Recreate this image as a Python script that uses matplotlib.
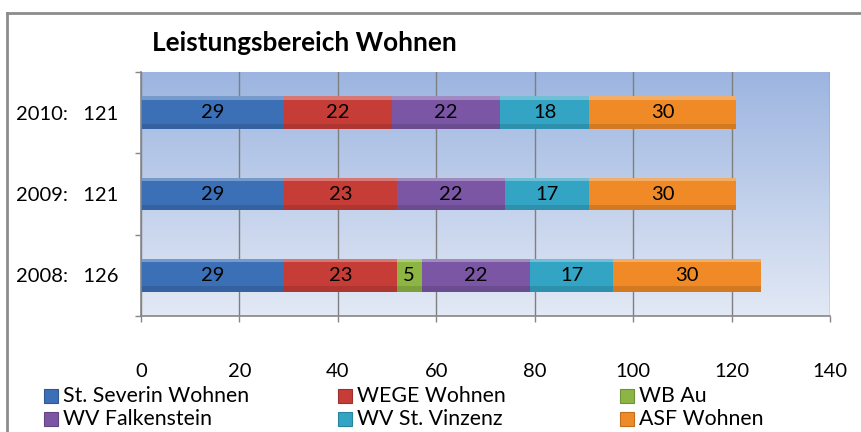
import matplotlib
matplotlib.use("Agg")
import matplotlib.pyplot as plt
import numpy as np
from matplotlib.patches import Rectangle
from matplotlib.lines import Line2D
from matplotlib.colors import to_rgb

plt.rcParams['font.family'] = ['Lato', 'DejaVu Sans']

years = ["2008", "2009", "2010"]
series_names = ["St. Severin Wohnen", "WEGE Wohnen", "WB Au",
                "WV Falkenstein", "WV St. Vinzenz", "ASF Wohnen"]
st_severin = [29, 29, 29]
wege = [23, 23, 22]
wb_au = [5, 0, 0]
wv_falkenstein = [22, 22, 22]
wv_vinzenz = [17, 17, 18]
asf = [30, 30, 30]
series_values = [st_severin, wege, wb_au, wv_falkenstein, wv_vinzenz, asf]
colors = ["#3b6fb6", "#c63c37", "#8db544", "#7a56a4", "#33a4c4", "#ef8a26"]
x_ticks = [0, 20, 40, 60, 80, 100, 120, 140]
title = "Leistungsbereich Wohnen"

W, H = 861, 432
fig = plt.figure(figsize=(W / 100, H / 100), dpi=100)

L, R, T, B = 141, 830, 72, 316
ax = fig.add_axes([L / W, (H - B) / H, (R - L) / W, (B - T) / H])

# gradient background
top_c = np.array(to_rgb("#9cb5e0"))
bot_c = np.array(to_rgb("#e3e9f5"))
t = np.linspace(0, 1, 256)[:, None]
grad = (top_c[None, :] * (1 - t) + bot_c[None, :] * t)[:, None, :]
ax.imshow(grad, extent=[0, 140, -0.5, 2.5], aspect='auto', zorder=0, origin='upper')

ypos = np.arange(len(years))
bar_h = 0.4
left = np.zeros(len(years))
for name, vals, col in zip(series_names, series_values, colors):
    vals = np.array(vals, dtype=float)
    base = np.array(to_rgb(col))
    dark = base * 0.88
    light = np.clip(base + (1 - base) * 0.3, 0, 1)
    ax.barh(ypos, vals, left=left, height=bar_h, color=base, edgecolor='none', zorder=3)
    ax.barh(ypos - bar_h * 0.42, vals, left=left, height=bar_h * 0.16, color=dark,
            edgecolor='none', zorder=4)
    ax.barh(ypos + bar_h * 0.45, vals, left=left, height=bar_h * 0.1, color=light,
            edgecolor='none', zorder=5)
    for y, v, l in zip(ypos, vals, left):
        if v > 0:
            ax.text(l + v / 2, y, f"{int(v)}", ha='center', va='center',
                    fontsize=14.5, color='black', zorder=6)
    left = left + vals

totals = left
ax.set_xlim(0, 140)
ax.set_ylim(-0.5, 2.5)
ax.set_xticks(x_ticks)
ax.set_xticklabels([str(v) for v in x_ticks], fontsize=14.5)
ax.tick_params(axis='x', length=4.5, width=1, color='#868686', pad=29)
ax.set_yticks(ypos)
ax.set_yticklabels([f"{y}:   {int(tt)}" for y, tt in zip(years, totals)], fontsize=14.5)
ax.tick_params(axis='y', which='major', length=0, pad=16.5)
ax.set_yticks(np.arange(-0.5, 3, 1), minor=True)
ax.tick_params(axis='y', which='minor', length=4.5, width=1, color='#868686')
ax.grid(axis='x', color='#7f7f7f', linewidth=1, zorder=1)
ax.set_axisbelow(True)
for s in ['top', 'right']:
    ax.spines[s].set_visible(False)
for s in ['left', 'bottom']:
    ax.spines[s].set_color('#868686')
    ax.spines[s].set_linewidth(1.2)
    ax.spines[s].set_zorder(7)

fig.text(152 / W, (H - 43) / H, title, fontsize=18.8, fontweight='bold', ha='left', va='center')

# outer border
fig.add_artist(Line2D([7 / W, 7 / W], [(H - 13) / H, 0], color='#8c8c8c', linewidth=2))
fig.add_artist(Line2D([7 / W, 1], [(H - 13) / H, (H - 13) / H], color='#8c8c8c', linewidth=2))

# legend (row-major)
leg_x = [44, 338, 620]
leg_y = [396, 419]
for i, (name, col) in enumerate(zip(series_names, colors)):
    r, c = divmod(i, 3)
    x0, yc = leg_x[c], leg_y[r]
    fig.add_artist(Rectangle((x0 / W, (H - yc - 7) / H), 14 / W, 14 / H,
                             facecolor=col, edgecolor=np.array(to_rgb(col)) * 0.8,
                             linewidth=0.8, transform=fig.transFigure))
    fig.text((x0 + 19) / W, (H - yc) / H, name, fontsize=15.3, ha='left', va='center')

fig.savefig("out.png", dpi=100)
